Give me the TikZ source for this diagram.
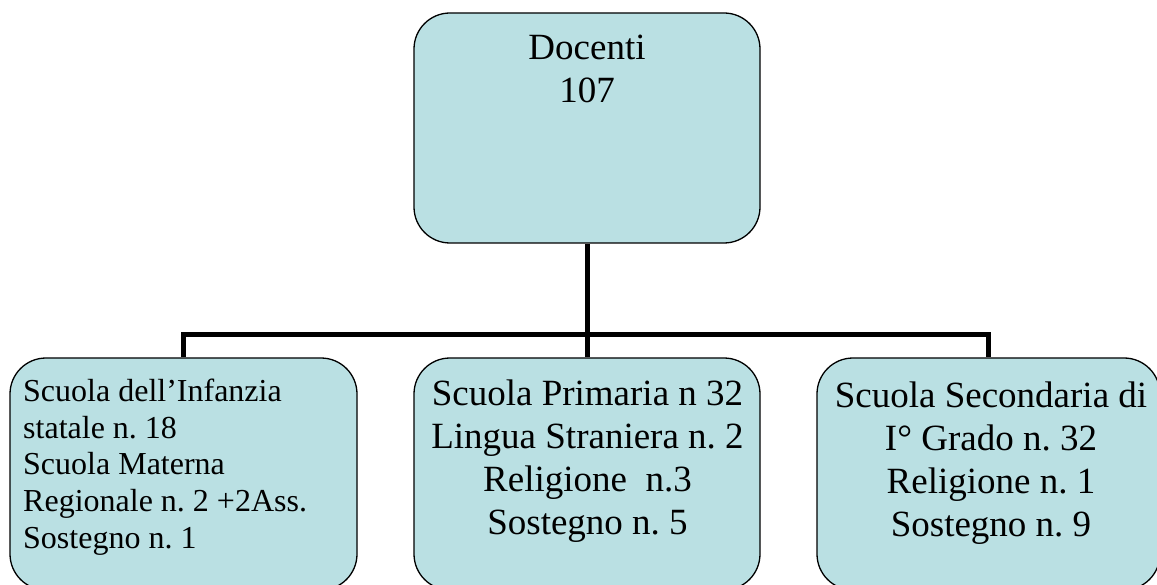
\documentclass[tikz,border=0pt]{standalone}
\usepackage{fontspec}
\setmainfont{Liberation Serif}
\definecolor{boxfill}{RGB}{186,224,227}
\frenchspacing
\begin{document}
\begin{tikzpicture}[x=1pt,y=-1pt,
  box/.style={draw=black, fill=boxfill, line width=1.3pt, rounded corners=36pt,
    rectangle, inner sep=0pt},
  conn/.style={draw=black, line width=5pt},
  big/.style={font=\fontsize{37}{43}\selectfont, align=center, inner sep=0pt},
  small/.style={font=\fontsize{32}{36.8}\selectfont, align=left, inner sep=0pt}]
\useasboundingbox (0,0) rectangle (1157,585);
\node[box, minimum width=346pt, minimum height=230pt] (top) at (587,128) {};
\node[box, minimum width=347pt, minimum height=232pt] (left) at (183.5,474) {};
\node[box, minimum width=346pt, minimum height=232pt] (mid) at (587,474) {};
\node[box, minimum width=343pt, minimum height=232pt] (right) at (988.5,474) {};
\draw[conn] (top.south) -- (mid.north);
\draw[conn] (left.north) -- ++(0,-23) -| (right.north);
\node[big, anchor=north] (ttop) at (587,34.5) {Docenti\\107};
\node[small, anchor=north west] (tleft) at (23,378.6) {Scuola dell’Infanzia\\statale n. 18\\Scuola Materna\\Regionale n. 2 +2Ass.\\Sostegno n. 1};
\node[big, anchor=north] (tmid) at (587.5,379.5) {Scuola Primaria n 32\\Lingua Straniera n. 2\\Religione~ n.3\\Sostegno n. 5};
\node[big, anchor=north] (tright) at (991,381.5) {Scuola Secondaria di\\I° Grado n. 32\\Religione n. 1\\Sostegno n. 9};
\end{tikzpicture}
\end{document}
